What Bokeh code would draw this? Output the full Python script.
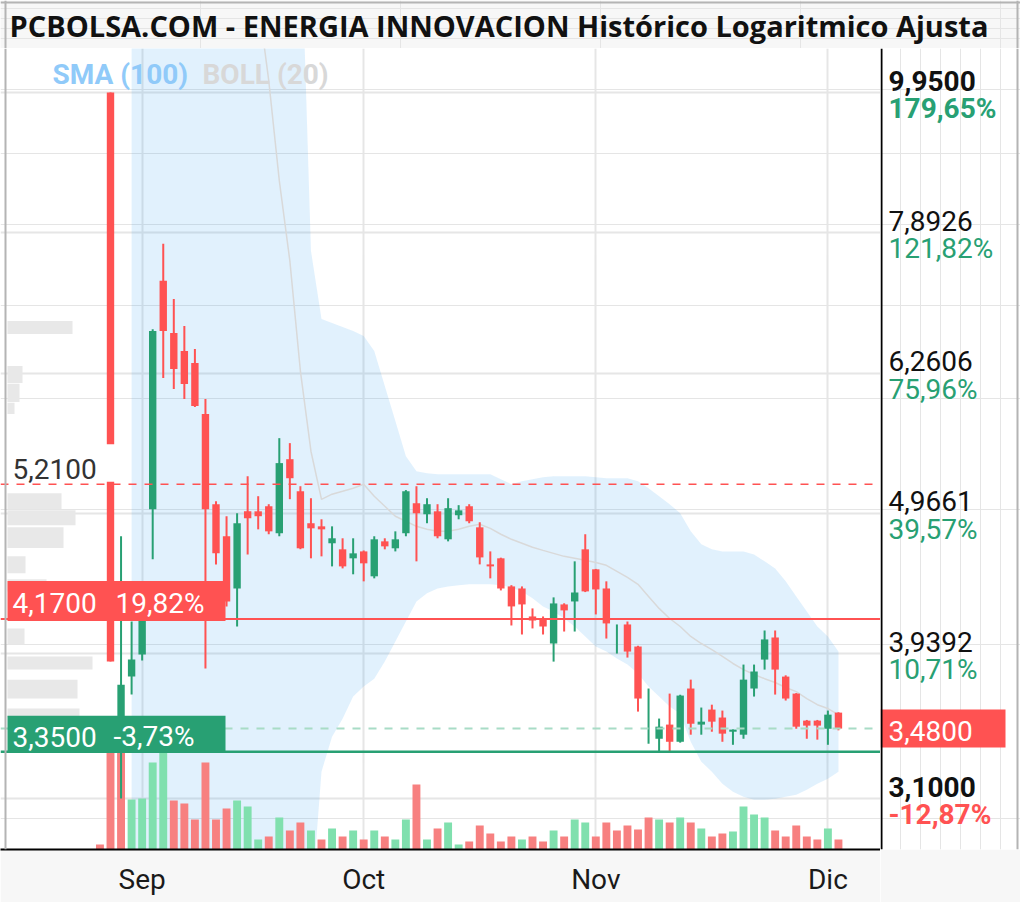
import numpy as np
from bokeh.plotting import figure
from bokeh.layouts import column, row
from bokeh.models import (Range1d, LinearScale, Span, BoxAnnotation, Label,
                          FixedTicker, Grid, ColumnDataSource)
from bokeh.core.properties import value
from bokeh.embed import file_html
from bokeh.resources import INLINE

TITLE = "PCBOLSA.COM - ENERGIA INNOVACION Histórico Logaritmico Ajusta"

# ---------------- data (one entry per session, oldest first) ----------------
opens = [3.42, 9.95, 3.434, 3.792, 3.933, 4.999, 7.290, 6.689, 6.493, 6.365, 5.850,
         5.041, 4.781, 4.386, 4.982, 4.982, 5.024, 4.805, 5.430, 5.150, 4.885,
         4.860, 4.726, 4.679, 4.610, 4.663, 4.475, 4.741, 4.687, 4.805, 5.049,
         4.958, 4.982, 4.757, 4.950, 5.024, 4.852, 4.564, 4.610, 4.401, 4.386,
         4.188, 4.167, 4.005, 4.272, 4.293, 4.679, 4.527, 4.386, 4.100, 4.133,
         3.985, 3.550, 3.422, 3.503, 3.405, 3.718, 3.503, 3.591, 3.544, 3.462,
         3.445, 3.718, 3.900, 4.045, 3.792, 3.687, 3.526, 3.526, 3.479, 3.573]
highs = [3.44, 9.95, 4.781, 4.153, 4.329, 6.730, 7.750, 7.076, 6.767, 6.514, 5.997,
         5.066, 4.942, 4.966, 5.280, 5.108, 5.041, 5.622, 5.576, 5.193, 5.091,
         4.917, 4.860, 4.765, 4.765, 4.670, 4.781, 4.765, 4.820, 5.160, 5.193,
         5.091, 5.041, 5.091, 5.033, 5.041, 4.893, 4.663, 4.615, 4.410, 4.401,
         4.244, 4.188, 4.322, 4.280, 4.587, 4.797, 4.530, 4.438, 4.133, 4.153,
         3.990, 3.718, 3.538, 3.687, 3.680, 3.773, 3.603, 3.620, 3.585, 3.475,
         3.868, 3.868, 4.092, 4.092, 3.800, 3.690, 3.530, 3.530, 3.585, 3.575]
lows = [3.39, 3.887, 3.10, 3.681, 3.894, 4.602, 6.209, 6.097, 5.997, 5.918, 3.843,
        4.564, 4.258, 4.119, 4.640, 4.836, 4.797, 4.781, 5.083, 4.680, 4.610,
        4.625, 4.549, 4.534, 4.490, 4.438, 4.460, 4.679, 4.663, 4.781, 4.587,
        4.885, 4.765, 4.741, 4.917, 4.885, 4.564, 4.460, 4.372, 4.126, 4.065,
        4.106, 4.065, 3.887, 4.085, 4.085, 4.360, 4.202, 4.038, 3.939, 3.913,
        3.579, 3.394, 3.350, 3.350, 3.400, 3.445, 3.445, 3.462, 3.405, 3.388,
        3.422, 3.669, 3.836, 3.681, 3.645, 3.479, 3.422, 3.417, 3.388, 3.470]
closes = [3.40, 3.887, 3.742, 3.900, 4.293, 6.711, 6.711, 6.302, 6.148, 5.928, 4.999,
          4.648, 4.293, 4.885, 4.925, 4.942, 4.820, 5.395, 5.262, 4.687, 4.844,
          4.836, 4.765, 4.549, 4.648, 4.572, 4.757, 4.702, 4.757, 5.150, 4.966,
          5.041, 4.781, 5.008, 4.990, 4.901, 4.617, 4.549, 4.386, 4.258, 4.272,
          4.160, 4.119, 4.279, 4.230, 4.357, 4.365, 4.379, 4.140, 4.100, 3.952,
          3.657, 3.550, 3.491, 3.405, 3.675, 3.508, 3.520, 3.520, 3.451, 3.474,
          3.773, 3.824, 4.032, 3.836, 3.657, 3.491, 3.497, 3.497, 3.561, 3.480]
volumes = [20, 472, 472, 200, 204, 348, 400, 196, 184, 120, 348, 120, 164, 196, 172,
           40, 52, 128, 76, 108, 76, 40, 84, 52, 76, 40, 76, 52, 40, 120, 260, 40,
           84, 108, 20, 32, 96, 64, 32, 52, 40, 52, 32, 76, 52, 120, 108, 52, 108,
           76, 96, 80, 128, 120, 108, 128, 108, 84, 52, 64, 72, 172, 140, 128, 76,
           52, 96, 52, 40, 84, 40]
vol_up = [0, 0, 0, 1, 1, 1, 1, 0, 0, 0, 0, 0, 0, 1, 1, 1, 0, 1, 0, 0, 1, 0, 1, 0, 1,
          0, 1, 0, 1, 1, 0, 1, 0, 1, 1, 0, 0, 0, 0, 0, 1, 0, 0, 1, 0, 1, 1, 0, 0, 0,
          0, 0, 0, 1, 0, 1, 0, 1, 0, 0, 1, 1, 1, 1, 0, 0, 0, 0, 0, 1, 0]

# Bollinger (20) bands, None where not available
bb_upper = [None, None, None,
            15.2, 15.6, 16.1, 16.6, 17.0, 17.3, 17.4, 17.3, 17.1, 16.8, 16.4, 15.9,
            15.4, 14.9, 14.4, 13.9, 13.5, 7.661,
            6.846, 6.801, 6.756, 6.711, 6.656, 6.493, 6.127, 5.783, 5.457, 5.324,
            5.306, 5.297, 5.297, 5.297, 5.297, 5.297, 5.297, 5.253, 5.210, 5.236,
            5.253, 5.271, 5.280, 5.280, 5.280, 5.280, 5.271, 5.262, 5.262, 5.262,
            5.236, 5.176, 5.108, 5.041, 4.966, 4.820, 4.718, 4.679, 4.663, 4.663,
            4.663, 4.640, 4.587, 4.534, 4.438, 4.329, 4.223, 4.119, 4.052, 3.952]
bb_mid = [None, None, None,
          13.2, 13.1, 13.0, 12.9, 12.8, 12.6, 12.5, 12.4, 12.2, 12.1, 11.9, 11.8,
          11.59, 10.147, 8.602, 7.535, 6.281, 5.502,
          5.082, 5.125, 5.150, 5.176, 5.210, 5.108, 5.024, 4.942, 4.901, 4.860,
          4.836, 4.820, 4.820, 4.836, 4.860, 4.877, 4.844, 4.797, 4.757, 4.726,
          4.695, 4.671, 4.648, 4.625, 4.610, 4.595, 4.579, 4.557, 4.512, 4.467,
          4.416, 4.329, 4.244, 4.174, 4.119, 4.052, 4.005, 3.965, 3.920, 3.875,
          3.836, 3.805, 3.779, 3.755, 3.724, 3.699, 3.657, 3.620, 3.597, 3.561]
bb_lower = [None, None, None,
            2.45, 2.40, 2.36, 2.33, 2.31, 2.30, 2.30, 2.31, 2.33, 2.35, 2.37, 2.40,
            2.43, 2.46, 2.49, 2.52, 2.55, 2.58,
            3.241, 3.434, 3.537, 3.669, 3.730, 3.779, 3.887, 4.018, 4.153, 4.293,
            4.351, 4.386, 4.401, 4.409, 4.416, 4.416, 4.416, 4.409, 4.394, 4.365,
            4.315, 4.258, 4.223, 4.174, 4.119, 4.052, 3.985, 3.952, 3.907, 3.868,
            3.811, 3.730, 3.669, 3.609, 3.567, 3.405, 3.295, 3.241, 3.177, 3.135,
            3.109, 3.094, 3.094, 3.099, 3.109, 3.120, 3.146, 3.177, 3.203, 3.241]

# volume-at-price profile
prof_lo = [6.678, 6.158, 5.967, 5.850, 5.000, 4.868, 4.690, 4.497, 4.365, 3.999, 3.836, 3.657, 3.544]
prof_hi = [6.823, 6.334, 6.150, 5.960, 5.133, 4.990, 4.852, 4.625, 4.453, 4.106, 3.920, 3.773, 3.597]
prof_vol = [1300, 300, 240, 140, 1080, 1360, 1120, 360, 780, 340, 1700, 1400, 1440]

month_pos = [4, 25, 47, 69]
month_labels = ["Sep", "Oct", "Nov", "Dic"]

axis_ticks = [9.95, 7.8926, 6.2606, 4.9661, 3.9392, 3.10]
axis_labels = ["9,9500", "7,8926", "6,2606", "4,9661", "3,9392", "3,1000"]
axis_pcts = ["179,65%", "121,82%", "75,96%", "39,57%", "10,71%", "-12,87%"]

level_dashed = 5.21
level_dashed_txt = "5,2100"
level_res = 4.17
level_res_txt = ["4,1700", "19,82%"]
level_sup = 3.35
level_sup_txt = ["3,3500", "-3,73%"]
last_close = closes[-1]
last_close_txt = "3,4800"

# ---------------- styling / layout ----------------
GREEN = "#28a073"
RED = "#ff5252"
VGREEN = "#80e0ae"
VRED = "#f78080"
GRID = "#e6e6e6"
EDGE = "#b4b4b4"
FONT = "Roboto"
STRIP = "#f7f7f7"

PAGE_W = 1020
MAIN_W = 880
RIGHT_W = PAGE_W - MAIN_W
TITLE_H = 48
BOTTOM = 53
FRAME_H = 801
MAIN_H = FRAME_H + BOTTOM
Y_MIN, Y_MAX = 2.85, 10.70
ppd = FRAME_H / np.log10(Y_MAX / Y_MIN)


def shift(v, px):
    return v * 10 ** (px / ppd)


yr = Range1d(Y_MIN, Y_MAX)
xr = Range1d(-9.4265, 73.986)
px_per_unit = MAIN_W / (xr.end - xr.start)

# ---- title strip ----
t = figure(width=PAGE_W, height=TITLE_H, x_range=Range1d(0, PAGE_W), y_range=Range1d(0, TITLE_H),
           x_axis_location=None, y_axis_location=None, toolbar_location=None,
           output_backend="svg", min_border_left=0, min_border_right=0,
           min_border_top=0, min_border_bottom=0)
t.background_fill_color = STRIP
t.border_fill_color = STRIP
t.outline_line_color = None
t.text(x=[9], y=[TITLE_H - 25], text=[TITLE], text_font=value("Open Sans"),
       text_font_size="29px", text_font_style="bold", text_baseline="middle",
       text_color="#111111")
t.add_layout(Span(location=TITLE_H - 2, dimension="width", line_color=EDGE, line_width=2))
t.add_layout(Span(location=5, dimension="height", line_color=EDGE, line_width=2))
t.add_layout(Span(location=1017, dimension="height", line_color=EDGE, line_width=2))

# ---- main chart ----
p = figure(width=MAIN_W, height=MAIN_H, x_range=xr, y_range=yr, y_axis_type="log",
           x_axis_location="below", y_axis_location=None, toolbar_location=None,
           output_backend="svg", min_border_left=0, min_border_right=0,
           min_border_top=0, min_border_bottom=BOTTOM)
p.outline_line_color = None
p.background_fill_color = "white"
p.border_fill_color = STRIP
p.extra_y_ranges = {"vol": Range1d(0, 4 * FRAME_H)}
p.extra_y_scales = {"vol": LinearScale()}
p.extra_x_ranges = {"prof": Range1d(-7 * 20, (MAIN_W - 7) * 20)}

p.add_layout(Grid(dimension=1, ticker=FixedTicker(ticks=axis_ticks),
                  grid_line_color=GRID, grid_line_width=2))
p.xaxis.ticker = FixedTicker(ticks=month_pos)
p.xaxis.major_label_overrides = {k: v for k, v in zip(month_pos, month_labels)}
p.xaxis.major_tick_line_color = None
p.xaxis.minor_tick_line_color = None
p.xaxis.major_tick_out = 0
p.xaxis.major_tick_in = 0
p.xaxis.axis_line_color = "black"
p.xaxis.axis_line_width = 2
p.xaxis.major_label_text_font = FONT
p.xaxis.major_label_text_font_size = "28px"
p.xaxis.major_label_text_color = "#1a1a1a"
p.xaxis.major_label_standoff = 13
p.xgrid.grid_line_color = GRID
p.xgrid.grid_line_width = 2

n = len(opens)
xs = np.arange(n)
o = np.array(opens)
c = np.array(closes)

# Bollinger band
bb_x = [x for x, v in zip(xs, bb_mid) if v is not None]
bb_u = [v for v in bb_upper if v is not None]
bb_m = [v for v in bb_mid if v is not None]
bb_l = [v for v in bb_lower if v is not None]
p.varea(x=bb_x, y1=bb_l, y2=bb_u, fill_color="#2196f3", fill_alpha=0.135)
p.line(x=bb_x, y=bb_m, line_color="#d9d9d9", line_width=1.5)

# volume profile
p.quad(left=0, right=prof_vol, bottom=prof_lo, top=prof_hi, x_range_name="prof",
       fill_color="#e8e8e8", line_color=None)

src = ColumnDataSource(dict(
    x=xs, o=o, c=c, h=highs, l=lows,
    top=np.maximum(o, c), bot=np.minimum(o, c),
    color=[GREEN if cc >= oo else RED for oo, cc in zip(o, c)],
    vol=volumes, vcolor=[VGREEN if u else VRED for u in vol_up]))

p.vbar(x="x", width=0.75, top="vol", bottom=0, y_range_name="vol",
       fill_color="vcolor", line_color=None, source=src)
p.segment(x0="x", y0="l", x1="x", y1="h", line_color="color", line_width=2, source=src)
p.vbar(x="x", width=0.7, top="top", bottom="bot", fill_color="color",
       line_color=None, source=src)

# level lines
p.add_layout(Span(location=level_dashed, dimension="width", line_color=RED,
                  line_dash="8 8", line_width=1.5))
p.add_layout(Span(location=last_close, dimension="width", line_color="#a8dcc6",
                  line_dash="8 8", line_width=2))
p.add_layout(Span(location=level_res, dimension="width", line_color=RED, line_width=2))
p.add_layout(Span(location=level_sup, dimension="width", line_color=GREEN, line_width=2.5))
p.add_layout(Span(location=xr.start + 5 / px_per_unit, dimension="height",
                  line_color=EDGE, line_width=2))

# level tags
p.add_layout(BoxAnnotation(left=7, right=116, left_units="screen", right_units="screen",
                           bottom=shift(level_dashed, 2.5), top=shift(level_dashed, 40),
                           fill_color="white", fill_alpha=1, line_color=None))
p.add_layout(BoxAnnotation(left=7, right=225, left_units="screen", right_units="screen",
                           bottom=shift(level_res, -2), top=shift(level_res, 38),
                           fill_color=RED, fill_alpha=1, line_color=None))
p.add_layout(BoxAnnotation(left=7, right=225, left_units="screen", right_units="screen",
                           bottom=shift(level_sup, -1), top=shift(level_sup, 36),
                           fill_color=GREEN, fill_alpha=1, line_color=None))


def tag(fig, x, y, text, color, dy, bold=False):
    fig.add_layout(Label(x=x, y=y, x_units="screen", text=text, text_font=FONT,
                         text_font_size="28px", text_color=color,
                         text_font_style="bold" if bold else "normal",
                         text_baseline="alphabetic", y_offset=dy))


tag(p, 12, level_dashed, level_dashed_txt, "#333333", 15)
tag(p, 12, level_res, level_res_txt[0], "white", 16)
tag(p, 115, level_res, level_res_txt[1], "white", 16)
tag(p, 12, level_sup, level_sup_txt[0], "white", 15)
tag(p, 113, level_sup, level_sup_txt[1], "white", 15)

# indicator legend
tag(p, 52, axis_ticks[0], "SMA (100)", "#90caf9", 18, bold=True)
tag(p, 202, axis_ticks[0], "BOLL (20)", "#d8d8d8", 18, bold=True)

# ---- right price scale ----
r = figure(width=RIGHT_W, height=MAIN_H, x_range=Range1d(0, RIGHT_W), y_range=yr,
           y_axis_type="log", x_axis_location=None, y_axis_location=None,
           toolbar_location=None, output_backend="svg", min_border_left=0,
           min_border_right=0, min_border_top=0, min_border_bottom=BOTTOM)
r.outline_line_color = None
r.background_fill_color = "white"
r.border_fill_color = STRIP

hi_all, lo_all = max(highs), min(lows)
for v, lab, pct in zip(axis_ticks, axis_labels, axis_pcts):
    strong = v in (hi_all, lo_all)
    tag(r, 8, v, lab, "#111111", 12, bold=strong)
    tag(r, 8, v, pct, RED if pct.startswith("-") else GREEN, -16, bold=strong)

r.add_layout(BoxAnnotation(left=0, right=125, left_units="screen", right_units="screen",
                           bottom=shift(last_close, -19), top=shift(last_close, 19),
                           fill_color=RED, fill_alpha=1, line_color=None))
tag(r, 8, last_close, last_close_txt, "white", -2)
r.add_layout(Span(location=1, dimension="height", line_color="black", line_width=2))
r.add_layout(Span(location=1017 - MAIN_W, dimension="height", line_color=EDGE, line_width=2))

layout = column(t, row(p, r))
open("out.html", "w").write(file_html(layout, INLINE))
